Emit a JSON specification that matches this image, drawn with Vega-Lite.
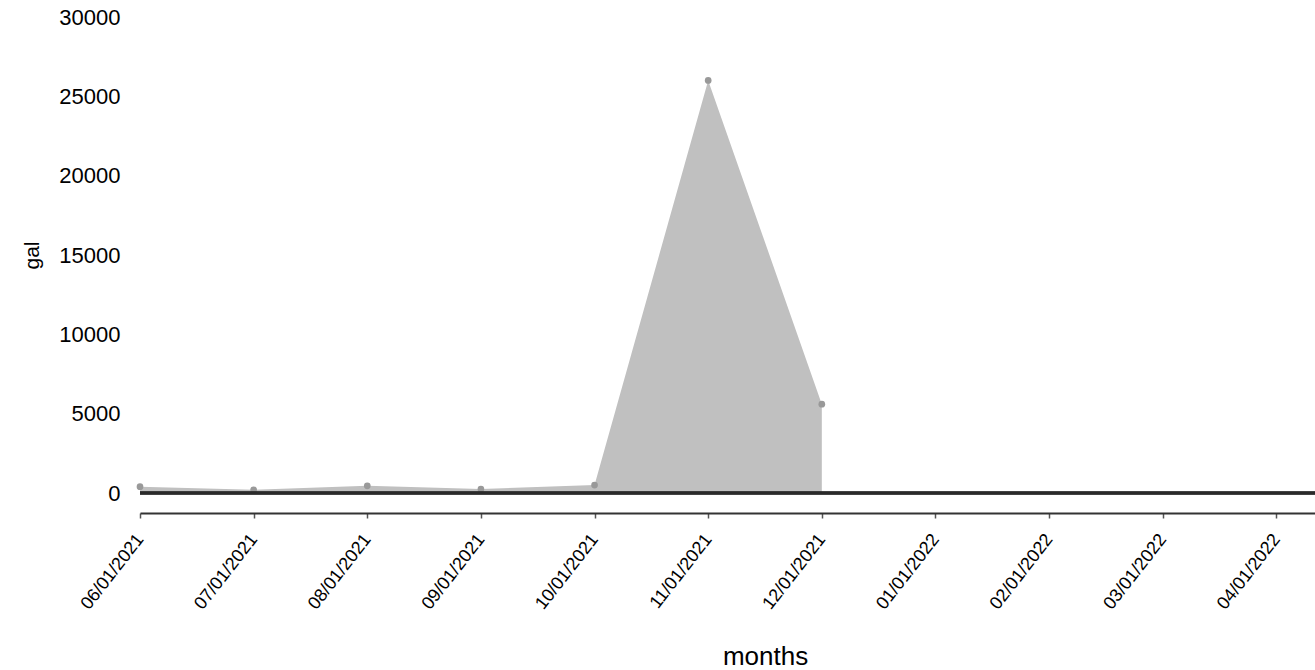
{
  "$schema": "https://vega.github.io/schema/vega-lite/v6.json",
  "autosize": {"type": "none"},
  "padding": {"left": 140, "top": 17, "right": 0, "bottom": 177},
  "width": 1175,
  "height": 476,
  "config": {"view": {"stroke": null}, "font": "Liberation Sans", "background": "white"},
  "data": {
    "values": [
      {"month": "06/01/2021", "gal": 400},
      {"month": "07/01/2021", "gal": 200},
      {"month": "08/01/2021", "gal": 450},
      {"month": "09/01/2021", "gal": 250},
      {"month": "10/01/2021", "gal": 500},
      {"month": "11/01/2021", "gal": 26000},
      {"month": "12/01/2021", "gal": 5600}
    ]
  },
  "encoding": {
    "x": {
      "field": "month",
      "type": "ordinal",
      "title": "months",
      "scale": {
        "type": "point",
        "domain": ["06/01/2021", "07/01/2021", "08/01/2021", "09/01/2021", "10/01/2021", "11/01/2021", "12/01/2021", "01/01/2022", "02/01/2022", "03/01/2022", "04/01/2022", "05/01/2022"],
        "range": [0, 1250],
        "padding": 0
      },
      "axis": {
        "offset": 20,
        "domainColor": "#333333",
        "domainWidth": 2,
        "tickColor": "#555555",
        "tickSize": 5,
        "tickWidth": 1.5,
        "labelAngle": -52,
        "labelAlign": "right",
        "labelBaseline": "middle",
        "labelPadding": 18,
        "labelFontSize": 18,
        "labelColor": "#000000",
        "labelOverlap": false,
        "labelBound": false,
        "titleFontSize": 26,
        "titleFontWeight": "normal",
        "titleColor": "#000000",
        "titleY": 151,
        "titleBaseline": "alphabetic",
        "grid": false
      }
    },
    "y": {
      "field": "gal",
      "type": "quantitative",
      "title": "gal",
      "scale": {"domain": [0, 30000], "nice": false},
      "axis": {
        "values": [0, 5000, 10000, 15000, 20000, 25000, 30000],
        "format": "d",
        "ticks": false,
        "domain": false,
        "grid": false,
        "labelPadding": 20,
        "labelFontSize": 22,
        "labelColor": "#000000",
        "titleFontSize": 21,
        "titleFontWeight": "normal",
        "titleColor": "#000000",
        "titleAngle": -90,
        "titleX": -102,
        "titleBaseline": "alphabetic"
      }
    }
  },
  "layer": [
    {"mark": {"type": "area", "color": "#c0c0c0", "opacity": 1}},
    {"mark": {"type": "point", "filled": true, "color": "#999999", "size": 45, "opacity": 1}},
    {"mark": {"type": "rule", "color": "#2a2a2a", "strokeWidth": 2.5}, "encoding": {"x": null, "y": {"datum": 0}}}
  ]
}
